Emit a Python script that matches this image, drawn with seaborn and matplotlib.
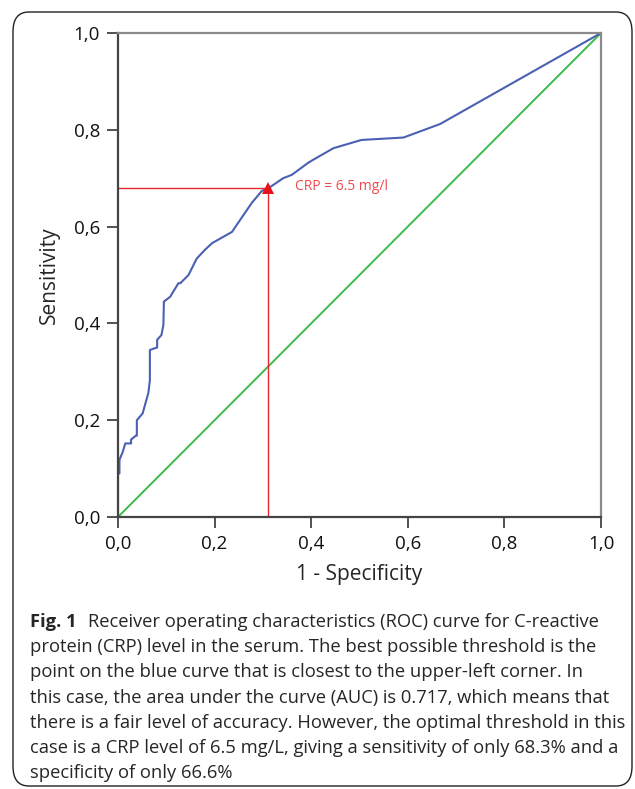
import numpy as np
import pandas as pd
import seaborn as sns
import matplotlib.pyplot as plt
from matplotlib.patches import FancyBboxPatch

#%% data

fpr = [0.0, 0.0, 0.003, 0.003, 0.01, 0.015, 0.027, 0.027, 0.037, 0.039, 0.039,
       0.051, 0.051, 0.063, 0.063, 0.066, 0.066, 0.074, 0.081, 0.081, 0.090,
       0.094, 0.095, 0.108, 0.125, 0.129, 0.146, 0.163, 0.180, 0.195, 0.236,
       0.253, 0.277, 0.298, 0.311, 0.342, 0.360, 0.394, 0.404, 0.446, 0.504,
       0.591, 0.667, 1.0]
tpr = [0.0, 0.090, 0.090, 0.118, 0.135, 0.152, 0.152, 0.160, 0.168, 0.168, 0.200,
       0.214, 0.214, 0.257, 0.257, 0.283, 0.345, 0.348, 0.350, 0.366, 0.376,
       0.397, 0.445, 0.455, 0.483, 0.483, 0.500, 0.534, 0.552, 0.566, 0.589,
       0.614, 0.649, 0.674, 0.679, 0.700, 0.707, 0.732, 0.738, 0.762, 0.779,
       0.784, 0.812, 1.0]
ref_line = [0.0, 1.0]

cut_x = 0.311   # 1 - specificity at CRP 6.5
cut_y = 0.679   # sensitivity at CRP 6.5
cut_label = 'CRP = 6.5 mg/l'

ticks = [0.0, 0.2, 0.4, 0.6, 0.8, 1.0]
tick_labels = ['0,0', '0,2', '0,4', '0,6', '0,8', '1,0']

caption = [
    'Receiver operating characteristics (ROC) curve for C-reactive',
    'protein (CRP) level in the serum. The best possible threshold is the',
    'point on the blue curve that is closest to the upper-left corner. In',
    'this case, the area under the curve (AUC) is 0.717, which means that',
    'there is a fair level of accuracy. However, the optimal threshold in this',
    'case is a CRP level of 6.5 mg/L, giving a sensitivity of only 68.3% and a',
    'specificity of only 66.6%',
]

#%% plot

sns.set_style('ticks')
plt.rcParams['font.family'] = ['Open Sans', 'DejaVu Sans']

fig = plt.figure(figsize=(6.35, 7.89), dpi=100)
ax = fig.add_axes([118 / 635, 1 - 517 / 789, 483 / 635, 484 / 789])

df_roc = pd.DataFrame({'fpr': fpr, 'tpr': tpr})
df_ref = pd.DataFrame({'x': ref_line, 'y': ref_line})

sns.lineplot(data=df_ref, x='x', y='y', color='#3dba4a', lw=1.4, ax=ax)
sns.lineplot(data=df_roc, x='fpr', y='tpr', sort=False, estimator=None,
             color='#4a61b3', lw=1.5, ax=ax)

# threshold lines
ax.plot([0, cut_x], [cut_y, cut_y], color='#e8262d', lw=1.0)
ax.plot([cut_x, cut_x], [0, cut_y], color='#e8262d', lw=1.0)
ax.plot([cut_x], [cut_y], marker='^', color='#e8101c', ms=9, mew=0)
ax.text(cut_x + 0.055, cut_y + 0.003, cut_label, color='#ee4a4f', fontsize=10,
        va='center', ha='left')

ax.set_xlim(0, 1)
ax.set_ylim(0, 1)
ax.set_xticks(ticks)
ax.set_xticklabels(tick_labels)
ax.set_yticks(ticks)
ax.set_yticklabels(tick_labels)
ax.tick_params(length=8, width=1.3, color='#444444', labelsize=13.5,
               labelcolor='#111111', pad=5)
ax.set_xlabel('1 - Specificity', fontsize=15, labelpad=8)
ax.set_ylabel('Sensitivity', fontsize=15, labelpad=10)
for s in ['left', 'bottom']:
    ax.spines[s].set_color('#444444')
    ax.spines[s].set_linewidth(1.6)
for s in ['top', 'right']:
    ax.spines[s].set_visible(True)
    ax.spines[s].set_color('#8a8a8a')
    ax.spines[s].set_linewidth(1.6)

# frame around the figure
box = FancyBboxPatch((13 / 635, 3 / 789), 619 / 635, 774 / 789,
                     boxstyle='round,pad=0,rounding_size=0.025',
                     transform=fig.transFigure, fill=False,
                     ec='#222222', lw=1.0)
fig.patches.append(box)

# caption
y0 = 1 - 622 / 789
step = 25.2 / 789
fig.text(30 / 635, y0, 'Fig. 1', fontsize=13.2, fontweight='bold',
         va='center', ha='left')
fig.text(88 / 635, y0, caption[0], fontsize=13.2, va='center', ha='left')
for i, line in enumerate(caption[1:], start=1):
    fig.text(30 / 635, y0 - i * step, line, fontsize=13.2, va='center', ha='left')

fig.savefig('out.png', dpi=100)
